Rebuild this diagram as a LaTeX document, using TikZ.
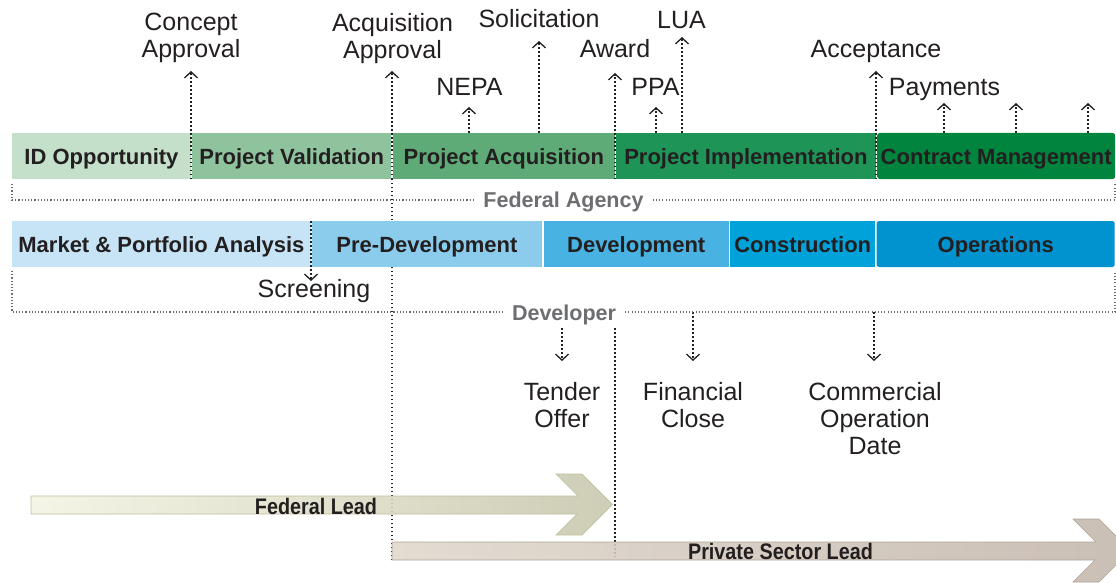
\documentclass[tikz,border=0pt]{standalone}
\usepackage{fontspec}
\setmainfont{Liberation Sans}
\usetikzlibrary{arrows.meta}
\definecolor{txt}{HTML}{231F20}
\definecolor{grptxt}{HTML}{6D6E71}
\definecolor{dotc}{HTML}{222222}
\definecolor{brkc}{HTML}{6A6A6A}
\definecolor{fA}{HTML}{C4DFCA}
\definecolor{fB}{HTML}{8FC39D}
\definecolor{fC}{HTML}{5EAB77}
\definecolor{fD}{HTML}{1F9457}
\definecolor{fE}{HTML}{00843E}
\definecolor{dA}{HTML}{C6E4F5}
\definecolor{dB}{HTML}{8BCCED}
\definecolor{dC}{HTML}{48B3E3}
\definecolor{dD}{HTML}{00A2DA}
\definecolor{dE}{HTML}{0093D0}
\definecolor{flL}{HTML}{F3F3E3}
\definecolor{flR}{HTML}{C7C7AC}
\definecolor{flB}{HTML}{BDBD9E}
\definecolor{psL}{HTML}{DED7CB}
\definecolor{psR}{HTML}{C3B6AB}
\definecolor{psB}{HTML}{AFA397}
\newcommand\barfont{\bfseries\fontsize{22}{24}\selectfont}
\newcommand\grpfont{\bfseries\fontsize{21.5}{24}\selectfont}
\newcommand\lblfont{\fontsize{25}{27}\selectfont}
\newcommand\leadfont{\bfseries\fontsize{22.5}{24}\selectfont}
\begin{document}
\begin{tikzpicture}[x=1pt,y=-1pt,
  barnode/.style={minimum height=46pt, inner sep=0pt, anchor=west, font=\barfont, text=txt, text height=17pt, text depth=0pt},
  lbl/.style={inner sep=0pt, font=\lblfont, text=txt, align=center},
  evline/.style={line width=1.5pt, dash pattern=on 1.5pt off 2.5pt, draw=dotc},
  evarr/.style={evline, -{Straight Barb[length=6pt,width=13pt,line width=1.3pt]}},
  brk/.style={line width=1.1pt, dash pattern=on 1.1pt off 2.1pt, draw=brkc},
  grp/.style={font=\grpfont, text=grptxt, inner xsep=9pt, inner ysep=0pt, anchor=base},
  leadtxt/.style={font=\leadfont, text=txt, anchor=base, inner sep=0pt},
]
\useasboundingbox (0,0) rectangle (1116,583);

% named coordinates
\coordinate (cpB) at (191,179);  \coordinate (cpT) at (191,71);
\coordinate (aqL) at (392,560);  \coordinate (aqM) at (392,179); \coordinate (aqT) at (392,71);
\coordinate (neB) at (469,133);  \coordinate (neT) at (469,107);
\coordinate (soB) at (539,133);  \coordinate (soT) at (539,41);
\coordinate (awB) at (615,179);  \coordinate (awT) at (615,73);
\coordinate (awL1) at (615,328); \coordinate (awL2) at (615,557);
\coordinate (ppB) at (656,133);  \coordinate (ppT) at (656,107);
\coordinate (luB) at (682,133);  \coordinate (luT) at (682,37);
\coordinate (acB) at (876,179);  \coordinate (acT) at (876,71);
\coordinate (p1B) at (944,133);  \coordinate (p1T) at (944,103);
\coordinate (p2B) at (1016,133); \coordinate (p2T) at (1016,103);
\coordinate (p3B) at (1088,133); \coordinate (p3T) at (1088,103);
\coordinate (scB) at (311,221);  \coordinate (scT) at (311,281);
\coordinate (toB) at (562,328);  \coordinate (toT) at (562,361);
\coordinate (fcB) at (693,312);  \coordinate (fcT) at (693,361);
\coordinate (coB) at (874,312);  \coordinate (coT) at (874,361);

% long lines behind the bars and lead arrows
\draw[evline] (aqL) -- (aqM);
\draw[evline] (awL1) -- (awL2);

% lead arrows
\begin{scope}
\clip (0,0) rectangle (1116,583);
\path[left color=flL, right color=flR, draw=flB, line width=0.6pt, fill opacity=0.88]
 (31,496) -- (578,496) -- (556,474) -- (582,474) -- (612.5,504.5) -- (582,535) -- (556,535) -- (577,514) -- (31,514) -- cycle;
\path[left color=psL, right color=psR, draw=psB, line width=0.6pt, fill opacity=0.88]
 (392,542) -- (1096,542) -- (1073,519) -- (1099,519) -- (1130.5,550.5) -- (1099,582) -- (1073,582) -- (1095,560) -- (392,560) -- cycle;
\end{scope}
\node[leadtxt] (fedlead) at (316,514) {\scalebox{0.88}[1]{Federal Lead}};
\node[leadtxt] (pslead) at (780.5,559) {\scalebox{0.88}[1]{Private Sector Lead}};

% federal bar
\node[barnode, fill=fA, minimum width=178.5pt] (idopp) at (12,156) {ID Opportunity};
\node[barnode, fill=fB, minimum width=199.5pt] (pval) at (191.75,156) {Project Validation};
\node[barnode, fill=fC, minimum width=221.75pt] (pacq) at (392.75,156) {Project Acquisition};
\node[barnode, fill=fD, minimum width=260pt] (pimp) at (615.75,156) {Project Implementation};
\node[barnode, fill=fE, minimum width=238pt, rounded corners=2.5pt] (cman) at (877,156) {Contract Management};

% developer bar
\node[barnode, fill=dA, minimum width=298.5pt] (mpa) at (12,244) {Market \& Portfolio Analysis};
\node[barnode, fill=dB, minimum width=230.5pt] (predev) at (311.5,244) {Pre-Development};
\node[barnode, fill=dC, minimum width=185pt] (dev) at (543.5,244) {Development};
\node[barnode, fill=dD, minimum width=145pt] (constr) at (730,244) {Construction};
\node[barnode, fill=dE, minimum width=238pt, rounded corners=2.5pt] (ops) at (876.5,244) {Operations};

% event arrows
\draw[evarr] (cpB) -- (cpT);
\draw[evarr] (aqM) -- (aqT);
\draw[evarr] (neB) -- (neT);
\draw[evarr] (soB) -- (soT);
\draw[evarr] (awB) -- (awT);
\draw[evarr] (ppB) -- (ppT);
\draw[evarr] (luB) -- (luT);
\draw[evarr] (acB) -- (acT);
\draw[evarr] (p1B) -- (p1T);
\draw[evarr] (p2B) -- (p2T);
\draw[evarr] (p3B) -- (p3T);
\draw[evarr] (scB) -- (scT);
\draw[evarr] (toB) -- (toT);
\draw[evarr] (fcB) -- (fcT);
\draw[evarr] (coB) -- (coT);

% labels
\node[lbl, anchor=north] (concept) at (191,13) {Concept\\Approval};
\node[lbl, anchor=north] (acqapp) at (392.5,13) {Acquisition\\Approval};
\node[lbl, anchor=base] (solic) at (539,28) {Solicitation};
\node[lbl, anchor=base] (award) at (615,58) {Award};
\node[lbl, anchor=base] (nepa) at (469.5,96) {NEPA};
\node[lbl, anchor=base] (ppa) at (655.5,96) {PPA};
\node[lbl, anchor=base] (lua) at (681.5,29) {LUA};
\node[lbl, anchor=base] (accept) at (876,58) {Acceptance};
\node[lbl, anchor=base] (pay) at (944.5,96) {Payments};
\node[lbl, anchor=base] (screen) at (314,297) {Screening};
\node[lbl, anchor=north] (tender) at (562,382) {Tender\\Offer};
\node[lbl, anchor=north] (fin) at (693,382) {Financial\\Close};
\node[lbl, anchor=north] (cod) at (875,382) {Commercial\\Operation\\Date};

% group brackets
\node[grp] (fedag) at (563.5,207.5) {Federal Agency};
\node[grp] (devlp) at (564,320) {Developer};
\coordinate (fbl) at (12,184);   \coordinate (fbr) at (1115,184);
\coordinate (dbl) at (12,271);   \coordinate (dbr) at (1115,271);
\draw[brk] (fbl) -- (12,200) -- (fedag.west |- 0,200);
\draw[brk] (fedag.east |- 0,200) -- (1115,200) -- (fbr);
\draw[brk] (dbl) -- (12,312) -- (devlp.west |- 0,312);
\draw[brk] (devlp.east |- 0,312) -- (1115,312) -- (dbr);
\end{tikzpicture}
\end{document}
